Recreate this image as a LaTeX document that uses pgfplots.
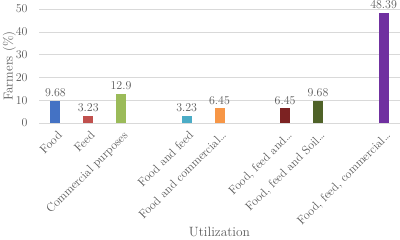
\documentclass[border=0pt]{standalone}
\usepackage{pgfplots}
\pgfplotsset{compat=1.18}
\definecolor{tc}{RGB}{89,89,89}
\definecolor{gc}{RGB}{217,217,217}
\definecolor{c1}{RGB}{68,114,196}
\definecolor{c2}{RGB}{192,80,77}
\definecolor{c3}{RGB}{155,187,89}
\definecolor{c4}{RGB}{75,172,198}
\definecolor{c5}{RGB}{247,150,70}
\definecolor{c6}{RGB}{124,34,34}
\definecolor{c7}{RGB}{79,98,40}
\definecolor{c8}{RGB}{112,48,160}
\begin{document}
\begin{tikzpicture}
\useasboundingbox (-39bp,-117bp) rectangle (361bp,123bp);
\begin{axis}[
  at={(0,0)}, anchor=south west,
  scale only axis, width=361bp, height=114bp,
  xmin=-0.5, xmax=10.5, ymin=0, ymax=50,
  ytick={0,10,20,30,40,50},
  xtick={0,1,2,4,5,7,8,10},
  xticklabels={Food,Feed,Commercial purposes,Food and feed,Food and commercial\ldots,{Food, feed and\ldots},{Food, feed and Soil\ldots},{Food, feed, commercial\ldots}},
  xticklabel style={rotate=45, anchor=north east, font=\fontsize{12}{14}\selectfont, text=tc, inner sep=1pt, yshift=-2bp},
  yticklabel style={font=\fontsize{12}{14}\selectfont, text=tc, xshift=-8bp},
  axis x line*=bottom, axis y line*=left,
  x axis line style={draw=gc, -}, y axis line style={draw=none},
  tick style={draw=none},
  ymajorgrids, grid style={gc, line width=0.6pt},
  ylabel={Farmers (\%)}, ylabel style={font=\fontsize{13}{15}\selectfont, text=tc, yshift=-7bp},
  xlabel={Utilization}, xlabel style={at={(axis description cs:0.5,-0.956)}, anchor=center, font=\fontsize{13.5}{15}\selectfont, text=tc},
  ybar, bar width=10bp, bar shift=0pt,
  nodes near coords, every node near coord/.append style={font=\fontsize{12}{14}\selectfont, text=tc, yshift=0.5bp, /pgf/number format/fixed, /pgf/number format/precision=2},
  clip=false,
]
\addplot[fill=c1, draw=none] coordinates {(0,9.68)};
\addplot[fill=c2, draw=none] coordinates {(1,3.23)};
\addplot[fill=c3, draw=none] coordinates {(2,12.9)};
\addplot[fill=c4, draw=none] coordinates {(4,3.23)};
\addplot[fill=c5, draw=none] coordinates {(5,6.45)};
\addplot[fill=c6, draw=none] coordinates {(7,6.45)};
\addplot[fill=c7, draw=none] coordinates {(8,9.68)};
\addplot[fill=c8, draw=none] coordinates {(10,48.39)};
\end{axis}
\end{tikzpicture}
\end{document}
